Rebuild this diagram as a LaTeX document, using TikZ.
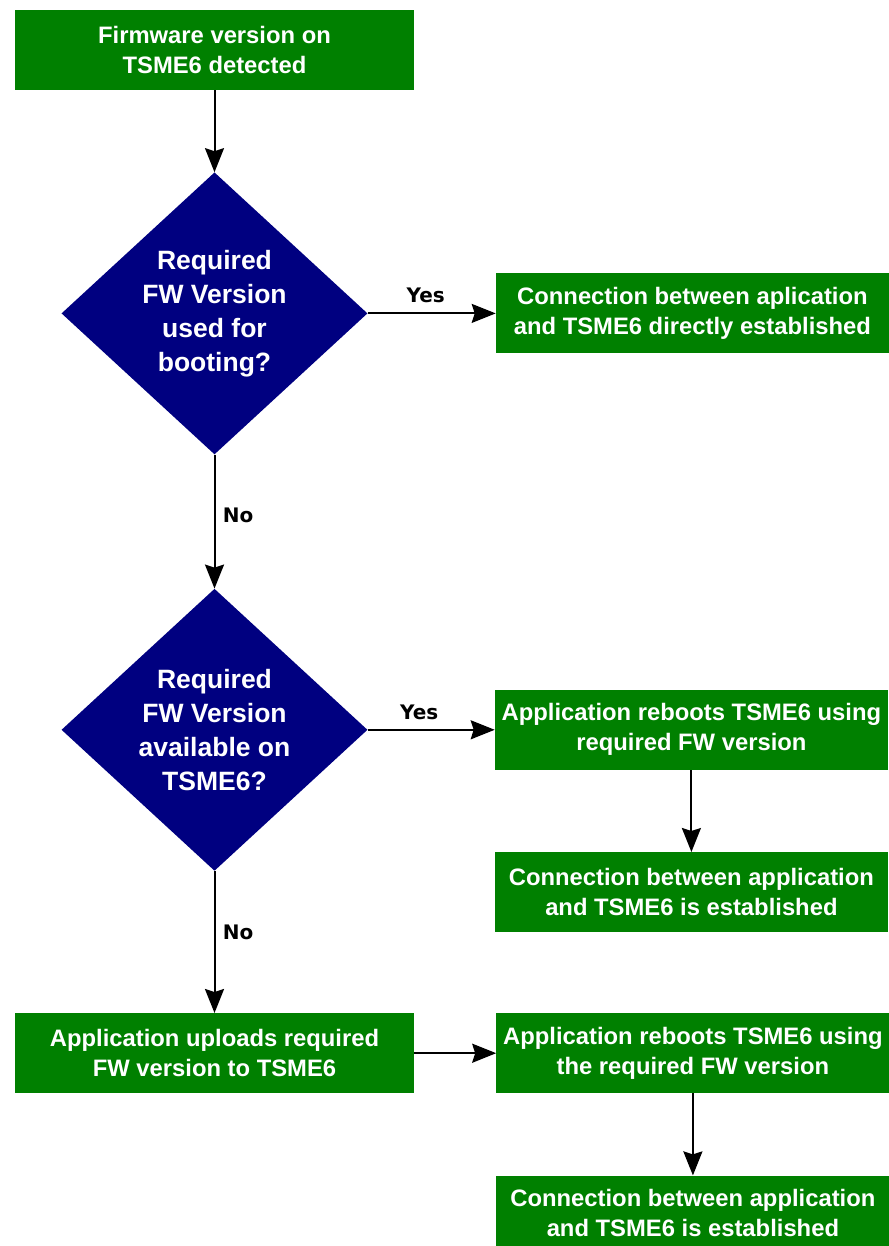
\documentclass[tikz,border=0pt]{standalone}
\usepackage{fontspec}
\setmainfont{Liberation Sans}
\newfontfamily\labelfont{DejaVu Sans}
\usepackage{tikz}
\usetikzlibrary{shapes.geometric, positioning, arrows.meta}
\definecolor{boxgreen}{RGB}{0,128,0}
\definecolor{decnavy}{RGB}{0,0,128}
\tikzstyle{process} = [rectangle, fill=boxgreen, text=white, minimum width=399pt, minimum height=80pt, inner sep=0pt, align=center, font=\fontsize{23.8}{30}\selectfont\bfseries]
\tikzstyle{result} = [process, minimum width=393pt]
\tikzstyle{decision} = [diamond, fill=decnavy, text=white, minimum width=306pt, minimum height=282pt, inner sep=0pt, align=center, font=\fontsize{26.5}{34}\selectfont\bfseries]
\tikzstyle{flow} = [line width=2pt, -{Stealth[length=24pt, width=19pt, inset=3pt]}]
\tikzstyle{answer} = [font=\labelfont\fontsize{20}{22}\selectfont\bfseries]

\begin{document}
\begin{tikzpicture}[x=1pt, y=-1pt]
		\useasboundingbox (0,0) rectangle (888,1246);
		\node (Detected)[process] at (214.5,50) {Firmware version on\\TSME6 detected};
		\node (Booted)[decision, below = 82pt of Detected]{Required\\FW Version\\used for\\booting?};
		\node (Direct)[result, right = 128pt of Booted]{Connection between aplication\\and TSME6 directly established};
		\node (Available)[decision, below = 134pt of Booted]{Required\\FW Version\\available on\\TSME6?};
		\node (Reboot)[result, right = 127pt of Available]{Application reboots TSME6 using\\required FW version};
		\node (Established)[result, below = 82pt of Reboot]{Connection between application\\and TSME6 is established};
		\node (Upload)[process, below = 142pt of Available]{Application uploads required\\FW version to TSME6};
		\node (Reboot Again)[result, right = 82pt of Upload]{Application reboots TSME6 using\\the required FW version};
		\node (Established Again)[result, below = 82pt of Reboot Again, minimum height=74pt]{Connection between application\\and TSME6 is established};
		\draw [flow] (Detected) -- (Booted);
		\draw [flow] (Booted) -- node[answer, above = 6pt, xshift=-6pt]{Yes} (Direct);
		\draw [flow] (Booted) -- node[answer, right = 4pt, yshift=6pt]{No} (Available);
		\draw [flow] (Available) -- node[answer, above = 6pt, xshift=-12pt]{Yes} (Reboot);
		\draw [flow] (Reboot) -- (Established);
		\draw [flow] (Available) -- node[answer, right = 4pt, yshift=10pt]{No} (Upload);
		\draw [flow] (Upload) -- (Reboot Again);
		\draw [flow] (Reboot Again) -- (Established Again);
	\end{tikzpicture}
\end{document}
